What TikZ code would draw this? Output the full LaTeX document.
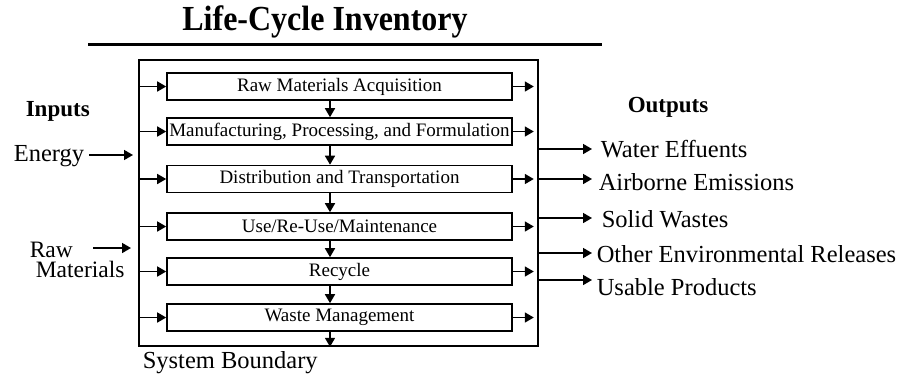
\documentclass[tikz,border=0pt]{standalone}
\usepackage{fontspec}
\setmainfont{Liberation Serif}
\usetikzlibrary{arrows.meta}
\begin{document}
\begin{tikzpicture}[x=1pt,y=-1pt,
  line width=1.6pt,
  arr/.style={-{Triangle[length=9pt,width=10pt]}},
  stage/.style={draw,line width=1.6pt,minimum width=345pt,minimum height=27pt,inner sep=0pt,font=\fontsize{19}{19}\selectfont},
  side/.style={inner sep=0pt,anchor=base west,font=\fontsize{24.5}{24}\selectfont},
  head/.style={inner sep=0pt,anchor=base west,font=\fontsize{23}{24}\selectfont\bfseries},
]
\useasboundingbox (0,0) rectangle (899,373);
% title
\node[inner sep=0pt,font=\fontsize{32}{32}\selectfont\bfseries,yscale=1.1] (title) at (325,22) {Life-Cycle Inventory};
\draw[line width=3pt] (88,44) -- (602,44);
% system boundary
\node[draw,line width=1.6pt,minimum width=399pt,minimum height=286pt,inner sep=0pt] (outer) at (338.5,203) {};
\node[side] (sb) at (142,368) {System Boundary};
% stages
\node[stage] (b1) at (339.5,86.5) {Raw Materials Acquisition};
\node[stage] (b2) at (339.5,131.5) {Manufacturing, Processing, and Formulation};
\node[stage] (b3) at (339.5,179) {Distribution and Transportation};
\node[stage] (b4) at (339.5,226.5) {Use/Re-Use/Maintenance};
\node[stage] (b5) at (339.5,271.5) {Recycle};
\node[stage] (b6) at (339.5,317.5) {Waste Management};
\foreach \b in {b1,b2,b3,b4,b5,b6}{
  \draw[arr] (outer.west |- \b.west) -- (\b.west);
  \draw[arr] (\b.east) -- ([xshift=21pt]\b.east);
}
\foreach \a/\b in {b1/b2,b2/b3,b3/b4,b4/b5,b5/b6}{
  \draw[arr] ([xshift=-9.5pt]\a.south) -- ([xshift=-9.5pt]\b.north);
}
\draw[arr] ([xshift=-9.5pt]b6.south) -- ([xshift=-9.5pt]b6.south |- outer.south);
% inputs
\node[head] (inputs) at (25,116) {Inputs};
\node[side] (energy) at (13,161) {Energy};
\coordinate (estart) at (89,155);
\coordinate (eend) at (133,155);
\draw[arr] (estart) -- (eend);
\node[inner sep=0pt,anchor=north west,align=left,font=\fontsize{23.5}{20.5}\selectfont] (rawmat) at (35,241) {\hspace*{-6pt}Raw\\Materials};
\coordinate (rstart) at (93,248);
\coordinate (rend) at (131,248);
\draw[arr] (rstart) -- (rend);
% outputs
\node[head] (outputs) at (627,112) {Outputs};
\node[side] (o1) at (600,157) {Water Effuents};
\node[side] (o2) at (598,190) {Airborne Emissions};
\node[side] (o3) at (601,227) {Solid Wastes};
\node[side] (o4) at (596,262) {Other Environmental Releases};
\node[side] (o5) at (596,295) {Usable Products};
\coordinate (t1) at (592,149);
\coordinate (t2) at (592,179);
\coordinate (t3) at (592,218);
\coordinate (t4) at (592,253);
\coordinate (t5) at (592,280);
\foreach \t in {t1,t2,t3,t4,t5}{
  \draw[arr] (outer.east |- \t) -- (\t);
}
\end{tikzpicture}
\end{document}
